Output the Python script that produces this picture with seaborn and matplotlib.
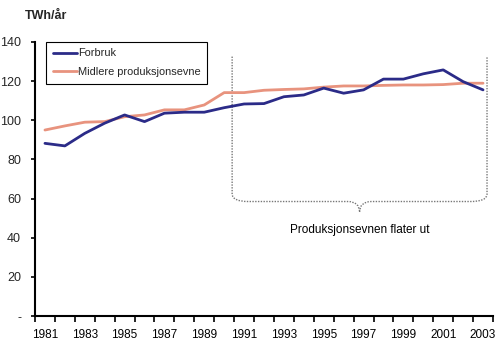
import matplotlib
matplotlib.use("Agg")
import matplotlib.pyplot as plt
import seaborn as sns
import pandas as pd
import numpy as np
from matplotlib.path import Path
from matplotlib.patches import PathPatch

years = list(range(1981, 2004))
forbruk = [88.2, 86.9, 93.3, 98.5, 102.7, 99.3, 103.6, 104.1, 104.1, 106.4, 108.3,
           108.5, 112.0, 112.9, 116.4, 113.8, 115.5, 121.0, 121.0, 123.7, 125.7, 119.7, 115.5]
midlere = [95.0, 97.1, 99.0, 99.3, 101.8, 102.7, 105.3, 105.3, 107.8, 114.1, 114.1,
           115.3, 115.7, 116.0, 116.9, 117.5, 117.5, 117.8, 118.0, 118.0, 118.2, 118.9, 118.9]
series_names = ["Forbruk", "Midlere produksjonsevne"]
y_ticks = [0, 20, 40, 60, 80, 100, 120, 140]
y_labels = ["-", "20", "40", "60", "80", "100", "120", "140"]
annotation = "Produksjonsevnen flater ut"
y_title = "TWh/år"

sns.set_theme(style="white")
plt.rcParams['font.family'] = ['Liberation Sans', 'DejaVu Sans']

idx = np.arange(len(years))
df = pd.DataFrame({
    "idx": np.concatenate([idx, idx]),
    "value": forbruk + midlere,
    "serie": [series_names[0]] * len(years) + [series_names[1]] * len(years),
})

fig = plt.figure(figsize=(5.0, 3.52), dpi=100)
ax = fig.add_axes([0.07, 0.102, 0.916, 0.779])
sns.lineplot(data=df, x="idx", y="value", hue="serie",
             palette={series_names[0]: "#2b2b88", series_names[1]: "#e8937e"},
             linewidth=2.0, ax=ax, legend=True)
for line in ax.get_lines():
    if line.get_color() == "#2b2b88":
        line.set_zorder(3)

ax.set_xlim(-0.5, len(years) - 0.5)
ax.set_ylim(0, 140)
ax.set_xlabel("")
ax.set_ylabel("")

ax.set_yticks(y_ticks)
ax.set_yticklabels(y_labels)
ax.set_xticks(idx[::2])
ax.set_xticklabels([str(y) for y in years[::2]])
ax.set_xticks(np.arange(-0.5, len(years), 1.0), minor=True)
ax.tick_params(axis="x", which="major", length=0, pad=9, labelsize=8.5, colors="black")
ax.tick_params(axis="x", which="minor", length=4, width=1.2, direction="out", color="black", bottom=True)
ax.tick_params(axis="y", which="major", length=3, width=1.2, direction="out", color="black",
               labelsize=9, pad=7, left=True)

for s in ["top", "right"]:
    ax.spines[s].set_visible(False)
for s in ["left", "bottom"]:
    ax.spines[s].set_color("black")
    ax.spines[s].set_linewidth(1.5)

leg = ax.legend(loc="upper left", bbox_to_anchor=(0.024, 1.0), fontsize=7.9,
                frameon=True, fancybox=False, edgecolor="black", framealpha=1,
                handlelength=2.2, handletextpad=0.1, borderpad=0.6, labelspacing=0.8,
                borderaxespad=0)
leg.get_frame().set_linewidth(0.8)

# brace
xl, xr, xm = 9.4, 22.2, 15.8
ytop, ybend, ytip = 132.5, 58.5, 53.0
verts = [
    (xl, ytop), (xl, ybend + 4), (xl, ybend), (xl + 0.8, ybend),
    (xm - 0.6, ybend), (xm, ybend), (xm, ytip),
    (xm, ybend), (xm + 0.6, ybend), (xr - 0.8, ybend),
    (xr, ybend), (xr, ybend + 4), (xr, ytop),
]
codes = [Path.MOVETO, Path.LINETO, Path.CURVE3, Path.CURVE3,
         Path.LINETO, Path.CURVE3, Path.CURVE3,
         Path.CURVE3, Path.CURVE3, Path.LINETO,
         Path.CURVE3, Path.CURVE3, Path.LINETO]
ax.add_patch(PathPatch(Path(verts, codes), facecolor="none", edgecolor="#777777",
                       linewidth=1.0, linestyle=(0, (1, 1)), zorder=1))
ax.text(xm, 44, annotation, ha="center", va="center", fontsize=8.5, color="black")

fig.text(0.05, 0.955, y_title, ha="left", va="center", fontsize=9, fontweight="bold")

fig.savefig("out.png", dpi=100)
